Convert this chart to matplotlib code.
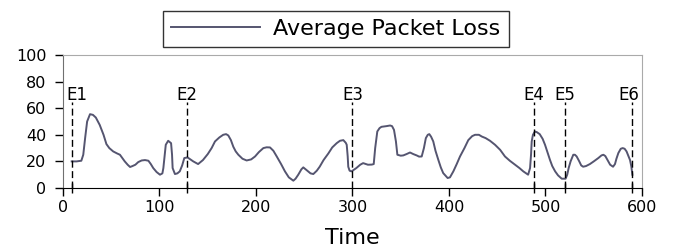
import numpy as np
import matplotlib
matplotlib.use("Agg")
import matplotlib.pyplot as plt

# packet loss curve
time = [9, 14, 19, 21, 23, 25, 28, 31, 34, 38, 42, 45, 48, 52, 56, 59, 62, 64, 67, 69.5,
        72, 75, 78, 81.5, 85, 88.5, 91, 93.5, 97, 100.5, 103, 104, 105, 106.5, 109, 112, 113, 113.6, 116, 118.5,
        121, 123.5, 125.7, 129, 132, 135, 140, 145, 150, 154, 157.5, 162, 166, 169, 171.3, 174, 176.5, 179, 181.7, 186,
        190.3, 195, 199, 203, 207.6, 211, 214.5, 218, 221.5, 226, 230, 234, 238.7, 241, 243.8, 247, 249, 251.5, 254, 256.5,
        259.4, 263, 266, 270, 275, 279, 283.6, 287, 290.5, 293, 294, 295, 295.6, 297, 299, 304, 308, 311, 316, 320,
        322, 323.5, 325.7, 328, 330, 335, 339, 341, 343, 345, 346.5, 350, 352.6, 356, 359.6, 363, 366.5, 369, 371.7, 374,
        376, 378, 379.6, 381.5, 383.7, 386, 389, 391.5, 394, 398.6, 401, 404.5, 408, 411.4, 416, 420, 424, 427, 431, 434,
        438, 442.5, 447.7, 453, 458, 463, 468.4, 473, 477, 480, 482, 484, 485, 485.7, 487, 489, 491, 494, 497, 499.5,
        502, 504.7, 507, 510, 513, 516.8, 520.8, 522.5, 524, 526, 528.8, 530.5, 532.3, 535, 537, 539, 542, 546, 550, 554.7,
        558, 560, 562, 565, 567, 570, 572, 573.5, 575.5, 578, 580, 582, 584, 586, 587.6, 589, 590]
loss = [20, 20, 20.5, 25, 38, 50, 55.5, 55, 53, 47.5, 40, 33, 30, 27.5, 26, 25, 22, 20, 17.5, 15.8,
        16.5, 17.5, 19.5, 20.7, 21, 20.5, 18, 15, 12, 10, 11, 15, 22, 32.5, 35.5, 33.7, 25, 15, 10.5, 11,
        12.5, 17, 22.5, 23, 21.5, 20, 18, 21, 25.5, 30, 35, 38, 40, 40.5, 39.5, 36, 31, 27.5, 25, 22,
        20.7, 21.5, 23.7, 27, 30, 30.6, 30.5, 28, 23.7, 18, 12.5, 8, 5.5, 7, 10, 14, 15.5, 14, 12.5, 11,
        10.5, 13, 16, 21, 26, 30.5, 33.7, 35.5, 36, 34, 32.5, 24, 16, 13, 12.5, 15, 17.5, 18.7, 17.5, 17.6,
        18, 30, 42.5, 45, 46, 46.5, 47, 46.5, 43.7, 35, 25, 24.3, 24.5, 25.5, 26.7, 25.5, 24.5, 23.6, 23.7, 30,
        37.5, 40, 40.5, 38.5, 35, 28, 21, 15.5, 11.2, 7.5, 8, 12.5, 18, 23.7, 30, 36, 39, 40, 40, 38.7,
        37.5, 35.5, 32.5, 28.7, 23.7, 20.5, 17.5, 15, 12.5, 11, 10, 15, 25, 35, 40, 42.5, 42, 40.5, 37, 32.5,
        27, 21, 16.5, 12.5, 9.5, 7, 7, 10, 15, 20, 25, 25, 23.7, 20, 17, 16, 16.5, 18, 20, 22.5,
        24.5, 25, 24, 20, 17.5, 16, 18, 22, 26.3, 29.5, 30, 29.5, 27.5, 24, 21, 16, 10]

events = ["E1", "E2", "E3", "E4", "E5", "E6"]
event_times = [9, 128, 300, 488, 520, 590]

fig = plt.figure(figsize=(6.74, 2.48), dpi=100)
ax = fig.add_axes([63 / 674, 1 - 188 / 248, (642 - 63) / 674, (188 - 55) / 248])

line, = ax.plot(time, loss, color="#555570", lw=1.4, label="Average Packet Loss")

for i, (name, t) in enumerate(zip(events, event_times)):
    ax.plot([t, t], [0, 65], color="black", lw=1.0, dashes=(5, 2.5))
    ha = "center"
    if i == 0:
        ha = "left"
        t = t - 6
    elif i == len(events) - 1:
        ha = "right"
        t = t + 7
    ax.text(t, 66.5, name, ha=ha, va="baseline", fontsize=12, color="black")

ax.set_xlim(0, 600)
ax.set_ylim(0, 100)
ax.set_xticks(np.arange(0, 601, 100))
ax.set_yticks(np.arange(0, 101, 20))
ax.set_xticks(event_times, minor=True)
ax.tick_params(axis="both", which="major", direction="out", length=6, width=1,
               labelsize=11.5, color="black")
ax.tick_params(axis="x", which="major", pad=3)
ax.tick_params(axis="y", which="major", pad=6)
ax.tick_params(axis="x", which="minor", direction="inout", length=7, width=1)
ax.tick_params(top=False, right=False)

ax.spines["left"].set_color("#707070")
ax.spines["bottom"].set_color("black")
ax.spines["top"].set_color("#aaaaaa")
ax.spines["right"].set_color("#aaaaaa")

ax.set_xlabel("Time", fontsize=16, labelpad=9)

fig.legend(handles=[line], loc="center", bbox_to_anchor=(336 / 674, 1 - 29 / 248),
           fontsize=16, handlelength=4.0, handletextpad=0.6, borderpad=0.35,
           fancybox=False, framealpha=1, edgecolor="#333333")

fig.savefig("out.png", dpi=100)
